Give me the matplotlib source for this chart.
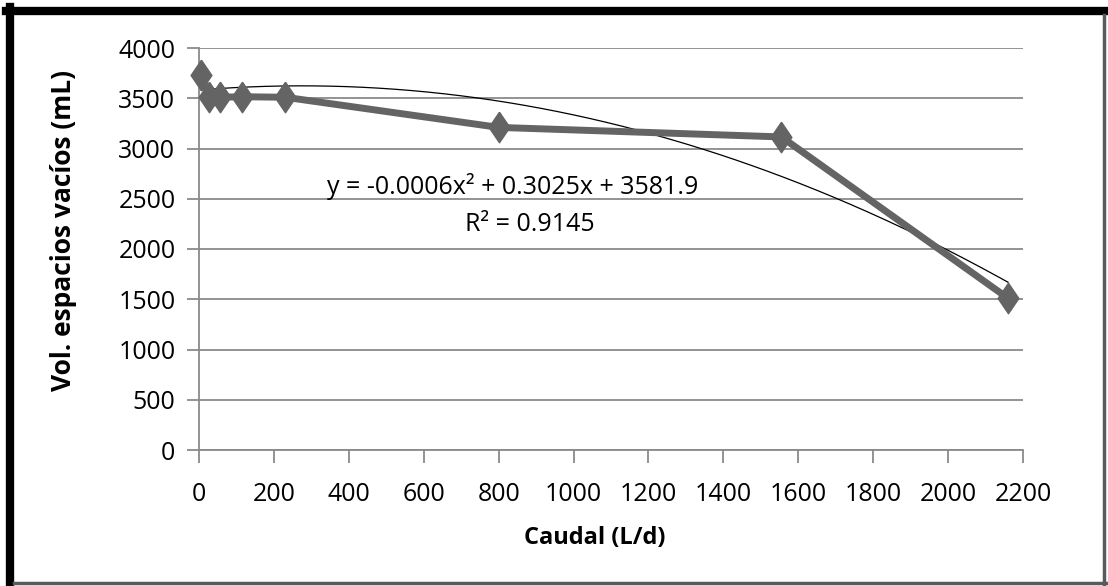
import numpy as np
from matplotlib import pyplot as plt
from matplotlib.lines import Line2D
import matplotlib.ticker as ticker

# data
caudal = [5, 28, 56, 115, 230, 800, 1555, 2160]
vol_vacios = [3730, 3510, 3510, 3515, 3510, 3210, 3115, 1510]
# polynomial trendline as drawn (quadratic coefficient is shown rounded in the label)
trend_coef = [-0.00055, 0.3025, 3581.9]
eq_text = 'y = -0.0006x² + 0.3025x + 3581.9'
r2_text = 'R² = 0.9145'

plt.rcParams['font.family'] = ['Open Sans', 'DejaVu Sans']

fig = plt.figure(figsize=(11.08, 5.86), dpi=100, facecolor='white')
ax = fig.add_axes([199/1108, 1-450/586, 824/1108, 402/586])

grey = '#646464'
xs = np.linspace(min(caudal), max(caudal), 300)
ax.plot(xs, np.polyval(trend_coef, xs), color='black', lw=0.9, zorder=2)

diamond = [(0, 1), (0.68, 0), (0, -1), (-0.68, 0), (0, 1)]
ax.plot(caudal, vol_vacios, color=grey, lw=5, marker=diamond, markersize=22,
        markerfacecolor=grey, markeredgecolor=grey, zorder=3, clip_on=False)

ax.set_xlim(0, 2200)
ax.set_ylim(0, 4000)
ax.xaxis.set_major_locator(ticker.MultipleLocator(200))
ax.yaxis.set_major_locator(ticker.MultipleLocator(500))
ax.grid(True, axis='y', color='#8a8a8a', lw=1.3, zorder=0)
ax.set_axisbelow(True)
for s in ['top', 'right']:
    ax.spines[s].set_visible(False)
for s in ['left', 'bottom']:
    ax.spines[s].set_color('#8a8a8a')
    ax.spines[s].set_linewidth(1.3)
ax.tick_params(axis='x', direction='out', length=9, width=1.3, color='#8a8a8a',
               labelsize=18, pad=14)
ax.tick_params(axis='y', direction='out', length=9, width=1.3, color='#8a8a8a',
               labelsize=18, pad=8)

ax.set_xlabel('Caudal (L/d)', fontsize=17, fontweight='bold')
ax.xaxis.set_label_coords(0.48, -0.19)
ax.set_ylabel('Vol. espacios vacíos (mL)', fontsize=19, fontweight='bold')
ax.yaxis.set_label_coords(-0.148, 0.545)

ax.text(838, 2617, eq_text, fontsize=18, ha='center', va='center')
ax.text(884, 2239, r2_text, fontsize=18, ha='center', va='center')

# page border: thick black top/left, thin grey right/bottom
W, H = 1108, 586
fig.add_artist(Line2D([10/W, 10/W], [1-7/H, 1-585/H], color='black', lw=6))
fig.add_artist(Line2D([6/W, 1106/W], [1-11/H, 1-11/H], color='black', lw=6))
fig.add_artist(Line2D([1104/W, 1104/W], [1-15/H, 1-585/H], color='#5a5a5a', lw=2.5))
fig.add_artist(Line2D([14/W, 1106/W], [1-583/H, 1-583/H], color='#5a5a5a', lw=2.5))

plt.savefig('out.png', dpi=100)
